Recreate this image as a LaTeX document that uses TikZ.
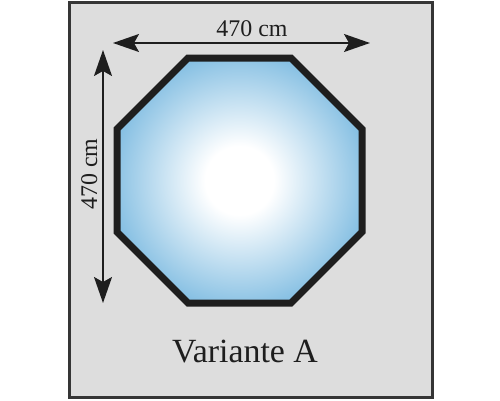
\documentclass[tikz,border=0pt]{standalone}
\usepackage{fontspec}
\setmainfont{Liberation Serif}
\usepackage{xcolor}
\usepackage{tikz}
\usetikzlibrary{arrows.meta}
\definecolor{poolblue}{RGB}{66,156,211}
\definecolor{groundgray}{RGB}{221,221,221}
\definecolor{edgedark}{RGB}{30,30,30}
\pgfdeclareradialshading{poolglow}{\pgfpoint{0bp}{0bp}}{%
  color(0bp)=(white); color(7bp)=(white); color(37bp)=(poolblue);
  color(50bp)=(poolblue)}

\begin{document}
\begin{tikzpicture}[x=1bp, y=1bp, >={Stealth[length=26bp, width=18bp, inset=5bp]},
  dimline/.style={<->, line width=1.5bp, edgedark},
  dimlabel/.style={font=\fontsize{24}{27}\selectfont, text=edgedark, inner sep=0pt, anchor=base}]
\useasboundingbox (0,0) rectangle (500,400);

% --- Ground plate ---
\draw[line width=3bp, edgedark!90, fill=groundgray] (69,3) rectangle (432,397);

% --- Pool (octagon) ---
\draw[line width=7bp, edgedark, line join=miter, shading=poolglow]
  (188,342) -- (291,342) -- (362,271) -- (362,168)
  -- (291,97) -- (188,97) -- (117,168) -- (117,271) -- cycle;

% --- Dimensions ---
\coordinate (wleft) at (113,357);
\coordinate (wright) at (370,357);
\coordinate (htop) at (103,350);
\coordinate (hbottom) at (103,97);
\draw[dimline] (wleft) -- (wright);
\draw[dimline] (htop) -- (hbottom);
\node[dimlabel] (widthlabel) at (252,364) {470 cm};
\node[dimlabel, rotate=90] (heightlabel) at (97,226) {470 cm};

% --- Caption ---
\node[font=\fontsize{34}{39}\selectfont, text=edgedark, inner sep=0pt, anchor=base]
  (variant) at (245,38) {Variante A};

\end{tikzpicture}
\end{document}
